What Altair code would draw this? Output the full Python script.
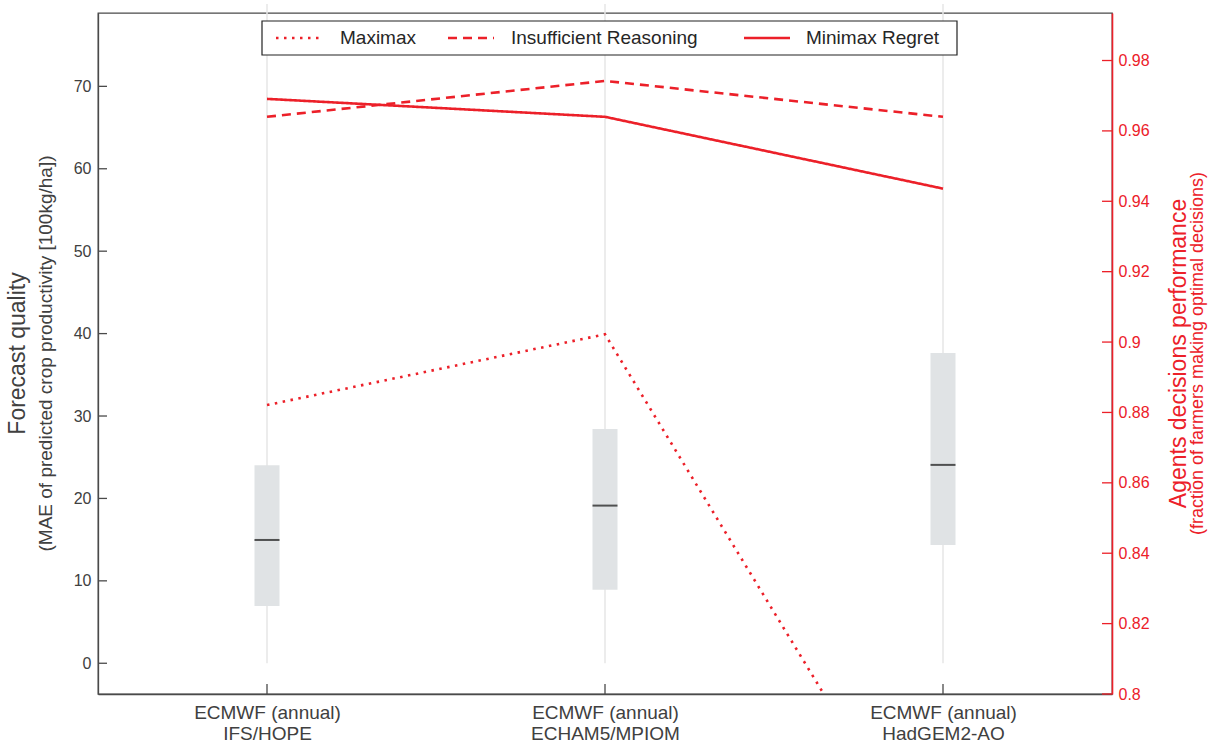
import altair as alt
import pandas as pd

# ---- data -------------------------------------------------------------
centres = ["ECMWF (annual)", "ECMWF (annual)", "ECMWF (annual)"]
models = ["IFS/HOPE", "ECHAM5/MPIOM", "HadGEM2-AO"]
categories = [c + "\n" + m for c, m in zip(centres, models)]

# forecast error spread (MAE, 100kg/ha)
box_low = [6.95, 8.93, 14.36]
box_high = [24.03, 28.43, 37.66]
box_median = [14.96, 19.13, 24.07]
whisker_low = [0, 0, 0]
whisker_high = [80, 80, 80]

# decision performance per strategy
strategies = ["Maximax", "Insufficient Reasoning", "Minimax Regret"]
maximax = [0.8821, 0.9022, 0.7443]
insufficient = [0.9640, 0.9742, 0.9640]
minimax_regret = [0.9691, 0.9640, 0.9436]

left_ticks = [0, 10, 20, 30, 40, 50, 60, 70]
right_ticks = [0.80, 0.82, 0.84, 0.86, 0.88, 0.90, 0.92, 0.94, 0.96, 0.98]

W, H = 1014, 681
RED = "#ec2029"
DARK = "#4a4a4a"
TXT = "#404040"
FONT = "Liberation Sans"
DASHES = [[2.5, 5.5], [9, 6], [1, 0]]

box_df = pd.DataFrame({
    "model": categories, "lo": box_low, "hi": box_high, "med": box_median,
    "wlo": whisker_low, "whi": whisker_high,
})
perf_df = pd.DataFrame({
    "model": categories * 3,
    "strategy": [s for s in strategies for _ in categories],
    "value": maximax + insufficient + minimax_regret,
})
lt_df = pd.DataFrame({"v": left_ticks})
rt_df = pd.DataFrame({"v": right_ticks})

x_scale = alt.Scale(type="point", padding=0.5, domain=categories)
x_axis = alt.Axis(
    title=None, labelAngle=0, tickSize=0, labelPadding=9,
    labelFontSize=19, labelColor=TXT, labelFont=FONT, labelLineHeight=21,
    labelExpr="split(datum.label, '\\n')", domainColor=DARK, domainWidth=1.3,
    grid=False, labelBaseline="top",
)
yl_scale = alt.Scale(domain=[-3.73, 78.9], nice=False, zero=False)
yr_scale = alt.Scale(domain=[0.8, 0.9935], nice=False, zero=False)
yl_axis = alt.Axis(
    title=None, values=left_ticks, tickSize=0, labelPadding=7,
    labelFontSize=16, labelColor=TXT, labelFont=FONT,
    domainColor=DARK, domainWidth=1.3, grid=False,
)
yr_axis = alt.Axis(
    orient="right", title=None, values=right_ticks, format=".2~f",
    tickSize=0, labelPadding=6, labelFontSize=16, labelColor=RED,
    labelFont=FONT, domainColor=RED, domainWidth=1.6, grid=False,
)

X = alt.X("model:N", scale=x_scale, axis=x_axis, sort=categories)


def YL(field):
    return alt.Y(field, scale=yl_scale, axis=yl_axis)


def YR(field):
    return alt.Y(field, scale=yr_scale, axis=yr_axis)


# ---- left scale: forecast quality --------------------------------------
whiskers = alt.Chart(box_df).mark_rule(color="#e6e6e6", strokeWidth=1.5).encode(
    x=X, y=YL("wlo:Q"), y2="whi:Q",
)
boxes = alt.Chart(box_df).mark_bar(color="#e0e3e5", size=25).encode(
    x=X, y=YL("lo:Q"), y2="hi:Q",
)
medians = alt.Chart(box_df).mark_tick(color="#111111", size=25, thickness=2).encode(
    x=X, y=YL("med:Q"),
)
left_tick_marks = alt.Chart(lt_df).mark_rule(color=DARK, strokeWidth=1.3).encode(
    y=YL("v:Q"), x=alt.value(0), x2=alt.value(9),
)
bottom_tick_marks = alt.Chart(box_df).mark_rule(color=DARK, strokeWidth=1.3).encode(
    x=X, y=alt.value(H - 10), y2=alt.value(H),
)


def vtitle(text, xpos, size, color):
    return alt.Chart(pd.DataFrame({"t": [text]})).mark_text(
        angle=270, align="center", baseline="middle", fontSize=size,
        font=FONT, color=color,
    ).encode(text="t:N", x=alt.value(xpos), y=alt.value(H / 2))


left_group = alt.layer(
    whiskers, boxes, medians, left_tick_marks, bottom_tick_marks,
    vtitle("Forecast quality", -80, 23, TXT),
    vtitle("(MAE of predicted crop productivity [100kg/ha])", -52, 19, TXT),
)

# ---- right scale: agents decisions performance -------------------------
dash_scale = alt.Scale(domain=strategies, range=DASHES)
lines = alt.Chart(perf_df).mark_line(strokeWidth=2.6, clip=True, color=RED).encode(
    x=X, y=YR("value:Q"),
    strokeDash=alt.StrokeDash("strategy:N", scale=dash_scale, legend=None),
    detail="strategy:N",
)
right_tick_marks = alt.Chart(rt_df).mark_rule(color=RED, strokeWidth=1.3).encode(
    y=YR("v:Q"), x=alt.value(W - 10), x2=alt.value(W),
)
right_group = alt.layer(
    lines, right_tick_marks,
    vtitle("Agents decisions performance", W + 67, 23, RED),
    vtitle("(fraction of farmers making optimal decisions)", W + 86, 18, RED),
)

# ---- legend box along the top ------------------------------------------
leg_df = pd.DataFrame({"s": ["legend"]})
legend_box = alt.Chart(leg_df).mark_rect(
    fill="white", stroke="#222222", strokeWidth=1.2
).encode(x=alt.value(164), x2=alt.value(859), y=alt.value(8), y2=alt.value(42))
legend_layers = [legend_box]
sym_x = [178, 350, 646]
lab_x = [242, 413, 708]
for name, dash, sx, lx in zip(strategies, DASHES, sym_x, lab_x):
    d = pd.DataFrame({"s": [name]})
    legend_layers.append(
        alt.Chart(d).mark_rule(color=RED, strokeWidth=2.6, strokeDash=dash).encode(
            x=alt.value(sx), x2=alt.value(sx + 46), y=alt.value(25)
        )
    )
    legend_layers.append(
        alt.Chart(d).mark_text(
            align="left", baseline="middle", fontSize=19, font=FONT, color="#262626"
        ).encode(text="s:N", x=alt.value(lx), y=alt.value(25))
    )
legend_group = alt.layer(*legend_layers)

chart = alt.layer(left_group, right_group, legend_group).resolve_scale(
    y="independent"
).properties(
    width=W, height=H,
    autosize=alt.AutoSizeParams(type="none"),
    padding={"left": 98, "top": 13, "right": 96, "bottom": 48},
    background="white",
).configure_view(stroke=DARK, strokeWidth=1.3)

chart.save("out.html", embed_options={"renderer": "svg", "actions": False})
